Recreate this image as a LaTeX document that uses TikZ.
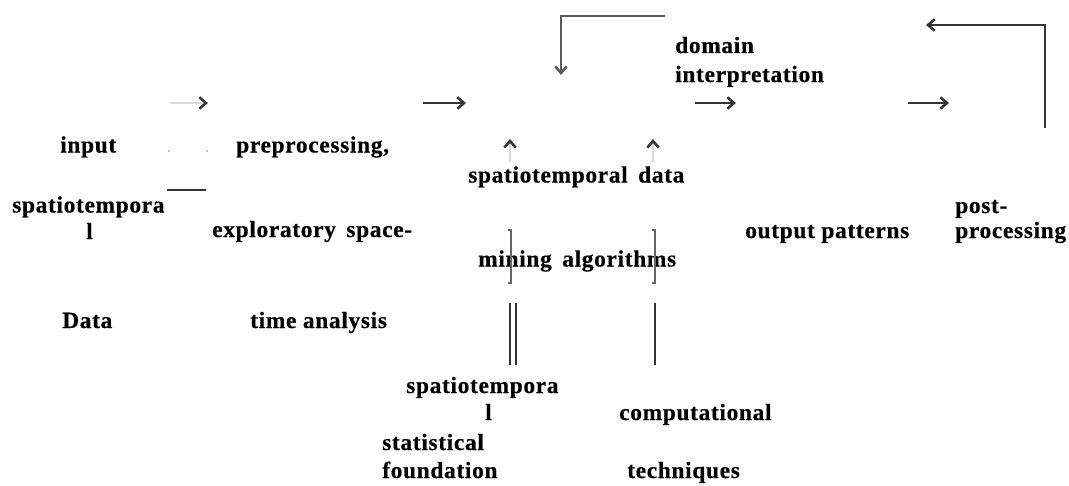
\documentclass[tikz,border=0pt]{standalone}
\usepackage{fontspec}
\setmainfont{Liberation Serif}
\newfontfamily\lblfont[LetterSpace=3,BoldFeatures={FakeBold=0.5}]{Liberation Serif}
\usetikzlibrary{arrows.meta}
\begin{document}
\begin{tikzpicture}[x=0.75pt,y=-0.75pt,
  lbl/.style={anchor=base west,inner sep=0pt,font=\lblfont\fontsize{17.5}{19}\selectfont\bfseries},
  arr/.style={line width=1.5pt,draw=black!80,-{Straight Barb[length=5pt,width=8.5pt,line width=1.9pt]}},
  fadearr/.style={line width=1.5pt,draw=black!15,-{Straight Barb[length=5pt,width=8.5pt,line width=1.9pt,color=black!80]}},
  fb/.style={line width=1.5pt,draw=black!65,-{Straight Barb[length=5pt,width=8.5pt,line width=1.9pt]}},
  bar/.style={line width=1.1pt,draw=black!80},
  gbar/.style={line width=1.1pt,draw=black!60}]
\useasboundingbox (0,0) rectangle (1069,485);
% left column
\node[lbl] (in1) at (60,152.5) {input};
\node[lbl] (in2) at (12,212.5) {spatiotempora};
\node[lbl] (in3) at (86,239) {l};
\node[lbl] (in4) at (62,328) {Data};
% preprocessing
\node[lbl] (pp1) at (236,152.5) {preprocessing,};
\node[lbl] (pp2) at (212,237) {exploratory\hspace{0.45em}space-};
\node[lbl] (pp3) at (250,328) {time analysis};
% mining
\node[lbl] (mn1) at (468,182.5) {spatiotemporal\hspace{0.45em}data};
\node[lbl] (mn2) at (478,266.5) {mining\hspace{0.45em}algorithms};
% domain
\node[lbl] (dm1) at (675,53) {domain};
\node[lbl] (dm2) at (675,82) {interpretation};
% output
\node[lbl] (op) at (745,238) {output patterns};
\node[lbl] (po1) at (955,213) {post-};
\node[lbl] (po2) at (955,238) {processing};
% bottom
\node[lbl] (sf1) at (406,393) {spatiotempora};
\node[lbl] (sf2) at (485,420) {l};
\node[lbl] (sf3) at (382,450) {statistical};
\node[lbl] (sf4) at (382,478) {foundation};
\node[lbl] (ct1) at (619,420) {computational};
\node[lbl] (ct2) at (627,478) {techniques};
% coordinates
\coordinate (a1s) at (170,103); \coordinate (a1e) at (208,103);
\coordinate (a2s) at (423,103); \coordinate (a2e) at (466,103);
\coordinate (a3s) at (695,103); \coordinate (a3e) at (736,103);
\coordinate (a4s) at (908,103); \coordinate (a4e) at (949,103);
\coordinate (f1a) at (665,16); \coordinate (f1b) at (561,16); \coordinate (f1c) at (561,75);
\coordinate (f2a) at (1045,128); \coordinate (f2b) at (1045,25); \coordinate (f2c) at (926,25);
\coordinate (u1s) at (510,162); \coordinate (u1e) at (510,139);
\coordinate (u2s) at (653,162); \coordinate (u2e) at (653,139);
\coordinate (l1) at (167,190); \coordinate (l2) at (206,190);
\coordinate (d1) at (169,151); \coordinate (d2) at (207,151);
\coordinate (v1a) at (511,230); \coordinate (v1b) at (511,283);
\coordinate (v2a) at (655,230); \coordinate (v2b) at (655,283);
\coordinate (w1a) at (510,303); \coordinate (w1b) at (510,365);
\coordinate (w2a) at (516,303); \coordinate (w2b) at (516,365);
\coordinate (w3a) at (655,303); \coordinate (w3b) at (655,365);
% arrows
\draw[fadearr] (a1s) -- (a1e);
\draw[arr] (a2s) -- (a2e);
\draw[arr] (a3s) -- (a3e);
\draw[arr] (a4s) -- (a4e);
\draw[fb] (f1a) -- (f1b) -- (f1c);
\draw[arr] (f2a) -- (f2b) -- (f2c);
\draw[fadearr] (u1s) -- (u1e);
\draw[fadearr] (u2s) -- (u2e);
% lines
\draw[bar] (l1) -- (l2);
\fill[black!30] (d1) circle (1.2) (d2) circle (1.2);
\draw[gbar] ([xshift=-2]v1a) -- (v1a) -- (v1b) -- ([xshift=-2]v1b);
\draw[gbar] ([xshift=-2]v2a) -- (v2a) -- (v2b) -- ([xshift=-2]v2b);
\draw[bar] (w1a) -- (w1b);
\draw[bar] (w2a) -- (w2b);
\draw[bar] (w3a) -- (w3b);
\end{tikzpicture}
\end{document}
